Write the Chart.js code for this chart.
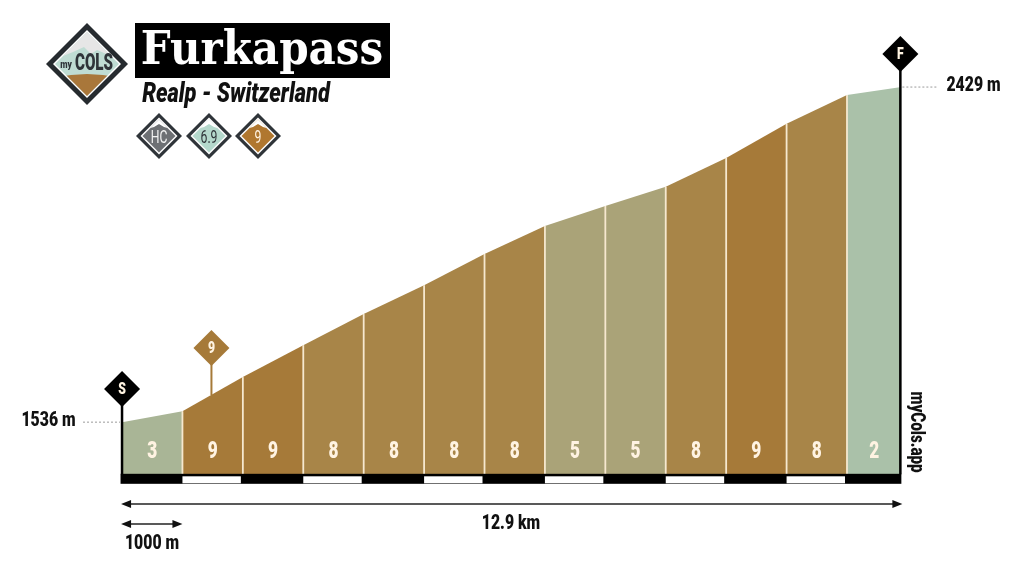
<!DOCTYPE html>
<html>
<head>
<meta charset="utf-8">
<title>Furkapass</title>
<script src="https://cdn.jsdelivr.net/npm/chart.js@4/dist/chart.umd.js"></script>
<style>
html, body { margin: 0; padding: 0; background: #fff; }
canvas { display: block; }
</style>
</head>
<body>
<canvas id="profile" width="1024" height="576"></canvas>
<script>
// km marks and altitude
const kmMarks    = [0, 1, 2, 3, 4, 5, 6, 7, 8, 9, 10, 11, 12, 12.9];
const elevations = [1536, 1565, 1656, 1741, 1824, 1901, 1984, 2059, 2112, 2163, 2240, 2331, 2408, 2429];
const gradients  = [3, 9, 9, 8, 8, 8, 8, 5, 5, 8, 9, 8, 2];

const titleText = 'Furkapass';
const subtitleText = 'Realp - Switzerland';
const badgeLabels = ['HC', '6.9', '9'];
const startLabel = '1536 m';
const endLabel = '2429 m';
const distanceLabel = '12.9 km';
const scaleLabel = '1000 m';
const brandLabel = 'myCols.app';

const baseElevation = 1397;
const gradeColors = { 2: '#aac1a9', 3: '#a9b596', 5: '#aaa378', 8: '#a88548', 9: '#a67a39' };
const HEAVY = 'Roboto, sans-serif';

function diamond(ctx, cx, cy, r, fill) {
    ctx.beginPath();
    ctx.moveTo(cx, cy - r);
    ctx.lineTo(cx + r, cy);
    ctx.lineTo(cx, cy + r);
    ctx.lineTo(cx - r, cy);
    ctx.closePath();
    if (fill) {
        ctx.fillStyle = fill;
        ctx.fill();
    }
}

// squeeze = horizontal factor, no condensed font is installed
function label(ctx, text, x, y, font, color, squeeze = 1) {
    ctx.font = font;
    ctx.fillStyle = color;
    ctx.textAlign = 'center';
    ctx.textBaseline = 'middle';
    ctx.fillText(text, x, y, ctx.measureText(text).width * squeeze);
}

function arrow(ctx, x0, x1, y) {
    ctx.strokeStyle = '#222';
    ctx.lineWidth = 1.3;
    ctx.beginPath();
    ctx.moveTo(x0 + 4, y);
    ctx.lineTo(x1 - 4, y);
    ctx.stroke();
    ctx.fillStyle = '#111';
    [[x0, 1], [x1, -1]].forEach(([x, dir]) => {
        ctx.beginPath();
        ctx.moveTo(x, y);
        ctx.lineTo(x + dir * 10, y - 4);
        ctx.lineTo(x + dir * 10, y + 4);
        ctx.closePath();
        ctx.fill();
    });
}

function flag(ctx, cx, cy, color, text) {
    diamond(ctx, cx, cy, 18, color);
    label(ctx, text, cx, cy + 1, '900 17px ' + HEAVY, '#fff4e2', 0.72);
}

function drawBadge(ctx, cx, cy, fill, text, textColor) {
    diamond(ctx, cx, cy, 23, '#2f3439');
    diamond(ctx, cx, cy, 18.5, '#fff');
    diamond(ctx, cx, cy, 16.5, fill);
    // petite cime blanche
    ctx.save();
    diamond(ctx, cx, cy, 16.5);
    ctx.clip();
    ctx.fillStyle = '#fff';
    ctx.beginPath();
    ctx.moveTo(cx - 12, cy - 7);
    ctx.lineTo(cx - 5, cy - 9);
    ctx.lineTo(cx, cy - 12);
    ctx.lineTo(cx + 5, cy - 9);
    ctx.lineTo(cx + 12, cy - 7);
    ctx.lineTo(cx + 12, cy - 20);
    ctx.lineTo(cx - 12, cy - 20);
    ctx.closePath();
    ctx.fill();
    ctx.restore();
    label(ctx, text, cx, cy + 2, '18px ' + HEAVY, textColor, 0.68);
}

function drawLogo(ctx, cx, cy) {
    diamond(ctx, cx, cy, 41, '#262b2f');
    diamond(ctx, cx, cy, 34, '#fff');
    diamond(ctx, cx, cy, 32, '#bfdcd3');
    ctx.save();
    diamond(ctx, cx, cy, 32);
    ctx.clip();
    // neige
    ctx.fillStyle = '#e6e6e6';
    ctx.beginPath();
    ctx.moveTo(cx, cy - 34);
    ctx.lineTo(cx + 24, cy - 8);
    ctx.lineTo(cx + 10, cy - 14);
    ctx.lineTo(cx + 4, cy - 10);
    ctx.lineTo(cx - 3, cy - 17);
    ctx.lineTo(cx - 14, cy - 12);
    ctx.lineTo(cx - 24, cy - 8);
    ctx.closePath();
    ctx.fill();
    // terre
    ctx.fillStyle = '#a9773a';
    ctx.beginPath();
    ctx.moveTo(cx - 34, cy + 14);
    ctx.quadraticCurveTo(cx, cy + 6, cx + 34, cy + 14);
    ctx.lineTo(cx, cy + 40);
    ctx.closePath();
    ctx.fill();
    ctx.restore();
    label(ctx, 'my', cx - 21, cy + 1, '900 10px ' + HEAVY, '#2f3439', 0.85);
    label(ctx, 'COLS', cx + 7, cy, '900 23px ' + HEAVY, '#2f3439', 0.66);
}

// everything around the profile: flags, scale bar, arrows, header
const decorPlugin = {
    id: 'decor',
    afterDatasetsDraw(chart) {
        const { ctx, scales: { x, y } } = chart;
        const xs = kmMarks.map(km => x.getPixelForValue(km));
        const left = xs[0];
        const right = xs[xs.length - 1];
        const base = y.getPixelForValue(baseElevation);
        const yStart = y.getPixelForValue(elevations[0]);
        const yEnd = y.getPixelForValue(elevations[elevations.length - 1]);

        ctx.save();

        // grade numbers inside the segments
        gradients.forEach((g, i) => {
            label(ctx, String(g), (xs[i] + xs[i + 1]) / 2, 452, '900 24px ' + HEAVY, '#fff3e2', 0.72);
        });

        // scale bar
        ctx.fillStyle = '#000';
        ctx.fillRect(left - 1.5, base - 0.5, right - left + 1.5, 10);
        ctx.fillStyle = '#fff';
        for (let i = 1; i < xs.length - 1; i += 2) {
            ctx.fillRect(xs[i], base + 2, xs[i + 1] - xs[i] - 2, 7);
        }

        // poles
        ctx.strokeStyle = '#000';
        ctx.lineWidth = 2.5;
        ctx.beginPath();
        ctx.moveTo(left, base);
        ctx.lineTo(left, 400);
        ctx.moveTo(right - 1, base);
        ctx.lineTo(right - 1, 66);
        ctx.stroke();
        flag(ctx, left, 389, '#000', 'S');
        flag(ctx, right - 1, 54, '#000', 'F');

        // steepest km marker
        const steepX = x.getPixelForValue(1.48);
        ctx.strokeStyle = gradeColors[9];
        ctx.lineWidth = 2;
        ctx.beginPath();
        ctx.moveTo(steepX, 395);
        ctx.lineTo(steepX, 360);
        ctx.stroke();
        flag(ctx, steepX, 348, gradeColors[9], '9');

        // altitude leaders
        ctx.strokeStyle = '#9a9a9a';
        ctx.lineWidth = 1;
        ctx.setLineDash([2, 2]);
        ctx.beginPath();
        ctx.moveTo(83, yStart);
        ctx.lineTo(left - 2, yStart);
        ctx.moveTo(right + 1, yEnd);
        ctx.lineTo(938, yEnd);
        ctx.stroke();
        ctx.setLineDash([]);
        label(ctx, startLabel, 48.5, yStart - 1, '900 20px ' + HEAVY, '#111', 0.79);
        label(ctx, endLabel, 973.5, yEnd - 1, '900 20px ' + HEAVY, '#111', 0.79);

        // distance arrows
        arrow(ctx, left - 1, right + 1, 504);
        arrow(ctx, left - 1, xs[1], 524);
        label(ctx, distanceLabel, 511, 524, '900 20px ' + HEAVY, '#111', 0.79);
        label(ctx, scaleLabel, 152, 544, '900 20px ' + HEAVY, '#111', 0.79);

        // brand, rotated
        ctx.save();
        ctx.translate(916, 432);
        ctx.rotate(Math.PI / 2);
        label(ctx, brandLabel, 0, 0, '900 20px ' + HEAVY, '#111', 0.76);
        ctx.restore();

        // header
        drawLogo(ctx, 87, 64);
        ctx.fillStyle = '#000';
        ctx.fillRect(135, 23, 255, 55);
        label(ctx, titleText, 262, 52, 'bold 46px "DejaVu Serif", serif', '#fff', 0.915);
        label(ctx, subtitleText, 236, 95, 'italic 900 28px ' + HEAVY, '#111', 0.78);
        drawBadge(ctx, 159, 136, '#6d7074', badgeLabels[0], '#f2f2f2');
        drawBadge(ctx, 209, 136, '#b4d8cc', badgeLabels[1], '#2f3439');
        drawBadge(ctx, 258, 136, '#b0772f', badgeLabels[2], '#fff3e2');

        ctx.restore();
    },
};

// one filled area per km, then the thin cream separators
const segmentSets = gradients.map((g, i) => ({
    data: [
        { x: kmMarks[i], y: elevations[i] },
        { x: kmMarks[i + 1], y: elevations[i + 1] },
    ],
    fill: { value: baseElevation },
    backgroundColor: gradeColors[g],
    borderWidth: 0,
    pointRadius: 0,
    tension: 0,
}));

const separatorSets = kmMarks.slice(1, -1).map((km, i) => ({
    data: [
        { x: km, y: baseElevation },
        { x: km, y: elevations[i + 1] },
    ],
    fill: false,
    borderColor: '#f6e8cf',
    borderWidth: 1.8,
    pointRadius: 0,
}));

new Chart(document.getElementById('profile'), {
    type: 'line',
    plugins: [decorPlugin],
    data: { datasets: [...separatorSets, ...segmentSets] },
    options: {
        responsive: false,
        animation: false,
        layout: { padding: 0, autoPadding: false },
        plugins: { legend: { display: false }, tooltip: { enabled: false }, title: { display: false } },
        scales: {
            x: { type: 'linear', display: false, min: -2.02, max: 14.93 },
            y: { type: 'linear', display: false, min: 1126, max: 2661 },
        },
    },
});
</script>
</body>
</html>
